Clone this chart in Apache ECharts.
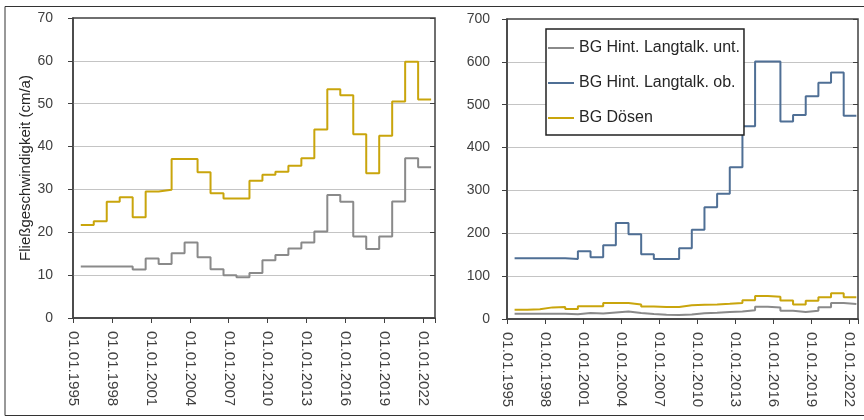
<!DOCTYPE html>
<html><head><meta charset="utf-8">
<script src="https://cdn.jsdelivr.net/npm/echarts@6/dist/echarts.min.js"></script>
<style>html,body{margin:0;padding:0;background:#fff}#c{width:864px;height:420px}</style>
</head><body><div id="c"></div>
<script>
// interval start dates (decimal years); last entry closes the final interval
const epochs = [1995.6, 1996.6, 1997.6, 1998.6, 1999.6, 2000.6, 2001.6, 2002.6, 2003.6, 2004.6,
  2005.6, 2006.6, 2007.6, 2008.6, 2009.6, 2010.6, 2011.6, 2012.6, 2013.6, 2014.6,
  2015.6, 2016.6, 2017.6, 2018.6, 2019.6, 2020.6, 2021.6, 2022.6];
const seriesNames = ['BG Hint. Langtalk. unt.', 'BG Hint. Langtalk. ob.', 'BG Dösen'];
const langtalkUnt = [12.0, 12.0, 12.0, 12.0, 11.3, 13.9, 12.6, 15.1, 17.6, 14.2, 11.4, 10.0, 9.5, 10.5,
  13.5, 14.7, 16.2, 17.6, 20.2, 28.7, 27.1, 19.0, 16.1, 19.0, 27.2, 37.3, 35.2];
const langtalkOb = [142, 142, 142, 142, 140, 158, 144, 172, 224, 198, 151, 140, 140, 165,
  208, 261, 292, 354, 450, 601, 601, 461, 476, 520, 551, 575, 474];
const dosen = [21.7, 22.6, 27.1, 28.2, 23.5, 29.5, 29.9, 37.1, 37.1, 34.0, 29.1, 27.9, 27.9, 32.0,
  33.4, 34.1, 35.5, 37.3, 44.0, 53.4, 52.0, 42.9, 33.8, 42.5, 50.5, 59.8, 51.0];
const yAxisTitle = 'Fließgeschwindigkeit (cm/a)';
const tickPrefix = '01.01.';

const colors = { unt: '#8a8a8a', ob: '#4f6f95', dosen: '#c9a50c' };
const FONT = 'Liberation Sans';

function steps(vals) {
  return epochs.map((x, i) => [x, vals[Math.min(i, vals.length - 1)]]);
}
function xAxisMain(grid, max) {
  return {
    type: 'value', gridIndex: grid, min: 1995, max: max, interval: 3,
    axisLine: { show: true, lineStyle: { color: '#404040', width: 1.5 } },
    axisTick: { show: true, length: 5, lineStyle: { color: '#404040' } },
    splitLine: { show: false },
    axisLabel: {
      rotate: -90, margin: 13, fontFamily: FONT, fontSize: 15, color: '#404040',
      showMaxLabel: false,
      formatter: v => Number.isInteger(v) ? tickPrefix + v : ''
    }
  };
}
function xAxisInner(grid, max) {
  return {
    type: 'value', gridIndex: grid, min: 1995, max: max, interval: 3,
    axisLine: { show: false }, axisLabel: { show: false }, splitLine: { show: false },
    axisTick: { show: true, inside: true, length: 5, lineStyle: { color: '#404040' } }
  };
}
function yAxisMain(grid, max, interval, margin, extra) {
  return Object.assign({
    type: 'value', gridIndex: grid, min: 0, max: max, interval: interval,
    axisLine: { show: true, lineStyle: { color: '#404040', width: 1.5 } },
    axisTick: { show: true, length: 5, lineStyle: { color: '#404040' } },
    splitLine: { show: true, showMinLine: false, showMaxLine: false, lineStyle: { color: '#c4c4c4', width: 1 } },
    axisLabel: { margin: margin, fontFamily: FONT, fontSize: 14, color: '#404040' }
  }, extra || {});
}
function yAxisInner(grid, max, interval) {
  return {
    type: 'value', gridIndex: grid, min: 0, max: max, interval: interval,
    axisLine: { show: false }, axisLabel: { show: false }, splitLine: { show: false },
    axisTick: { show: true, inside: true, length: 5, lineStyle: { color: '#404040' } }
  };
}
function line(name, data, color, xi, yi, z) {
  return {
    name: name, type: 'line', step: 'end', xAxisIndex: xi, yAxisIndex: yi,
    data: steps(data), showSymbol: false, symbol: 'none', z: z || 2,
    lineStyle: { color: color, width: 2 }, itemStyle: { color: color },
    emphasis: { disabled: true }, animation: false
  };
}

const chart = echarts.init(document.getElementById('c'), null, { renderer: 'canvas' });
chart.setOption({
  animation: false,
  backgroundColor: '#fff',
  graphic: [{
    type: 'rect', shape: { x: 5, y: 6.5, width: 870, height: 409 },
    style: { fill: 'none', stroke: '#333', lineWidth: 1 }, silent: true, z: 0
  }],
  grid: [
    { left: 73, top: 18, width: 362, height: 300, show: true, borderColor: '#404040', borderWidth: 1.5, backgroundColor: 'transparent' },
    { left: 507, top: 19, width: 351, height: 300, show: true, borderColor: '#404040', borderWidth: 1.5, backgroundColor: 'transparent' }
  ],
  legend: {
    left: 546, top: 29, orient: 'vertical',
    data: seriesNames, icon: 'rect', itemWidth: 26, itemHeight: 2, itemGap: 19,
    padding: [11, 4, 9, 2], borderColor: '#222', borderWidth: 1.5, backgroundColor: '#fff',
    textStyle: { fontFamily: FONT, fontSize: 16, color: '#262626' },
    selectedMode: false, z: 10
  },
  xAxis: [xAxisMain(0, 2022.9), xAxisMain(1, 2022.73), xAxisInner(0, 2022.9), xAxisInner(1, 2022.73)],
  yAxis: [
    yAxisMain(0, 70, 10, 20, {
      name: yAxisTitle, nameLocation: 'middle', nameRotate: 90, nameGap: 40,
      nameTextStyle: { fontFamily: FONT, fontSize: 15, color: '#262626' }
    }),
    yAxisMain(1, 700, 100, 17),
    yAxisInner(0, 70, 10),
    yAxisInner(1, 700, 100)
  ],
  series: [
    line(seriesNames[0], langtalkUnt, colors.unt, 0, 0),
    line(seriesNames[2], dosen, colors.dosen, 0, 0, 3),
    line(seriesNames[0], langtalkUnt, colors.unt, 1, 1),
    line(seriesNames[1], langtalkOb, colors.ob, 1, 1, 3),
    line(seriesNames[2], dosen, colors.dosen, 1, 1)
  ]
});
</script></body></html>
